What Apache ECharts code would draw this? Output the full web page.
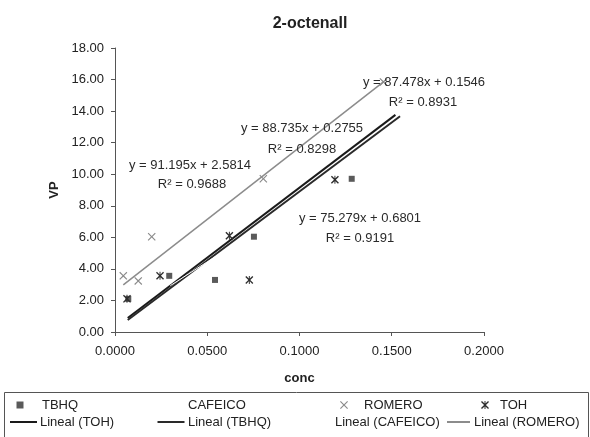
<!DOCTYPE html>
<html><head><meta charset="utf-8">
<script src="https://cdn.jsdelivr.net/npm/echarts@6/dist/echarts.min.js"></script>
<style>html,body{margin:0;padding:0;background:#fff}#c{width:590px;height:437px}</style>
</head><body><div id="c"></div>
<script>
// ---- data ----
const xTicks = [0, 0.05, 0.1, 0.15, 0.2];
const yTicks = [0, 2, 4, 6, 8, 10, 12, 14, 16, 18];
const tbhqConc = [0.0072, 0.0294, 0.0542, 0.0753, 0.1283];
const tbhqVP   = [2.10, 3.56, 3.30, 6.04, 9.71];
const tohConc  = [0.0065, 0.0244, 0.0620, 0.0728, 0.1192];
const tohVP    = [2.10, 3.56, 6.10, 3.30, 9.65];
const romeroConc = [0.0045, 0.0126, 0.0199, 0.0804, 0.1455];
const romeroVP   = [3.56, 3.24, 6.04, 9.71, 15.85];
const cafeicoConc = [];
const cafeicoVP   = [];
// trendlines (Excel linear fits, as printed on the chart)
const trendNames = ['Lineal (TOH)', 'Lineal (TBHQ)', 'Lineal (CAFEICO)', 'Lineal (ROMERO)'];
const trendSlope = [88.735, 87.478, 75.279, 91.195];
const trendIntercept = [0.2755, 0.1546, 0.6801, 2.5814];
const trendR2 = [0.8298, 0.8931, 0.9191, 0.9688];
const trendFrom = [0.0069, 0.0069, 0.0300, 0.0045];
const trendTo   = [0.1520, 0.1545, 0.1530, 0.1455];

// ---- styles / layout ----
const FONT = 'Liberation Sans, Arial, sans-serif';
const trendColors = ['#1a1a1a', '#2a2a2a', '#ffffff', '#8c8c8c'];
const trendWidths = [2, 2, 1, 1.5];
const eqPos = [ // pixel centres of equation labels [eqX, eqY, r2X, r2Y]
  [302, 128, 302, 149],
  [424, 82, 423, 102],
  [360, 218, 360, 238],
  [190, 165, 192, 184]
];
const squarePath = 'path://M0,0L10,0L10,10L0,10Z';
const crossPath = 'path://M0,1L1,0L5,4L9,0L10,1L6,5L10,9L9,10L5,6L1,10L0,9L4,5Z';
const starPath = 'path://M0,1.2L1.2,0L4.4,3.2L4.4,0L5.6,0L5.6,3.2L8.8,0L10,1.2L6.2,5L10,8.8L8.8,10L5.6,6.8L5.6,10L4.4,10L4.4,6.8L1.2,10L0,8.8L3.8,5Z';
const linePath = 'path://M0,0L27,0L27,1.6L0,1.6Z';

const zip = (a, b) => a.map((v, i) => [v, b[i]]);
const chart = echarts.init(document.getElementById('c'), null, {renderer: 'canvas'});

const series = [];
trendNames.forEach((n, i) => {
  const f = x => trendSlope[i] * x + trendIntercept[i];
  series.push({
    name: n, type: 'line', showSymbol: false, symbol: 'none', silent: true,
    data: [[trendFrom[i], f(trendFrom[i])], [trendTo[i], f(trendTo[i])]],
    lineStyle: {color: trendColors[i], width: trendWidths[i]},
    itemStyle: {color: trendColors[i]},
    z: 2
  });
});
series.push({name: 'TBHQ', type: 'scatter', symbol: squarePath, symbolSize: 6,
  data: zip(tbhqConc, tbhqVP), itemStyle: {color: '#5a5a5a', opacity: 1}, z: 3});
series.push({name: 'CAFEICO', type: 'scatter', symbol: squarePath, symbolSize: 6,
  data: zip(cafeicoConc, cafeicoVP), itemStyle: {color: '#ffffff', opacity: 1}, z: 3});
series.push({name: 'ROMERO', type: 'scatter', symbol: crossPath, symbolSize: 8,
  data: zip(romeroConc, romeroVP), itemStyle: {color: '#8a8a8a', opacity: 1}, z: 3});
series.push({name: 'TOH', type: 'scatter', symbol: starPath, symbolSize: 8,
  data: zip(tohConc, tohVP), itemStyle: {color: '#2e2e2e', opacity: 1}, z: 3});

// legend layout: [name, icon, iconCentreX, iconWidth, iconHeight, textX, rowCentreY]
const legendItems = [
  ['TBHQ', squarePath, 20, 7, 7, 42, 405],
  ['CAFEICO', squarePath, 166, 7, 7, 188, 405],
  ['ROMERO', crossPath, 344, 8, 8, 364, 405],
  ['TOH', starPath, 485, 8, 8, 500, 405],
  ['Lineal (TOH)', linePath, 23.5, 27, 2, 40, 422],
  ['Lineal (TBHQ)', linePath, 171, 27, 2, 188, 422],
  ['Lineal (CAFEICO)', linePath, 318, 27, 2, 335, 422],
  ['Lineal (ROMERO)', linePath, 458.5, 23, 2, 474, 422]
];
const legends = legendItems.map(([name, icon, cx, w, h, tx, cy]) => {
  const left = cx - w / 2;
  return {
    data: [{name: name, icon: icon}], left: left, top: cy - 7.5, padding: 0,
    height: 15, itemWidth: w, itemHeight: h, itemGap: 0, selectedMode: false,
    symbolKeepAspect: false, itemStyle: {borderWidth: 0},
    textStyle: {fontFamily: FONT, fontSize: 13, color: '#222', lineHeight: 15,
      padding: [0, 0, 0, tx - (left + w + 5)]}
  };
});

const graphics = [{type: 'rect', shape: {x: 4.5, y: 392.5, width: 584, height: 60},
  style: {fill: 'none', stroke: '#555', lineWidth: 1}, silent: true}];
trendNames.forEach((n, i) => {
  const eq = 'y = ' + trendSlope[i].toFixed(3) + 'x + ' + trendIntercept[i].toFixed(4);
  graphics.push({type: 'text', x: eqPos[i][0], y: eqPos[i][1], z: 10,
    style: {text: eq, fill: '#2a2a2a', font: '13px ' + FONT, textAlign: 'center', textVerticalAlign: 'middle'}});
  graphics.push({type: 'text', x: eqPos[i][2], y: eqPos[i][3], z: 10,
    style: {text: 'R\u00B2 = ' + trendR2[i].toFixed(4), fill: '#2a2a2a', font: '13px ' + FONT, textAlign: 'center', textVerticalAlign: 'middle'}});
});

chart.setOption({
  animation: false,
  backgroundColor: '#ffffff',
  title: {text: '2-octenall', left: 305, top: 11, textAlign: 'center',
    textStyle: {fontFamily: FONT, fontSize: 16, fontWeight: 'bold', color: '#222'}},
  grid: {left: 115, right: 106, top: 48, bottom: 105, containLabel: false},
  xAxis: {type: 'value', min: xTicks[0], max: xTicks[xTicks.length - 1], interval: xTicks[1] - xTicks[0],
    name: 'conc', nameLocation: 'middle', nameGap: 40,
    nameTextStyle: {fontFamily: FONT, fontSize: 13, fontWeight: 'bold', color: '#222'},
    axisLine: {lineStyle: {color: '#555'}}, axisTick: {length: 4, lineStyle: {color: '#555'}},
    axisLabel: {fontFamily: FONT, fontSize: 13, color: '#222', margin: 13, formatter: v => v.toFixed(4)},
    splitLine: {show: false}},
  yAxis: {type: 'value', min: yTicks[0], max: yTicks[yTicks.length - 1], interval: yTicks[1] - yTicks[0],
    name: 'VP', nameLocation: 'middle', nameGap: 52, nameRotate: 90,
    nameTextStyle: {fontFamily: FONT, fontSize: 13, fontWeight: 'bold', color: '#222'},
    axisLine: {show: true, lineStyle: {color: '#555'}}, axisTick: {show: true, length: 4, lineStyle: {color: '#555'}},
    axisLabel: {fontFamily: FONT, fontSize: 13, color: '#222', margin: 11, formatter: v => v.toFixed(2)},
    splitLine: {show: false}},
  legend: legends,
  graphic: graphics,
  series: series
});
</script></body></html>
